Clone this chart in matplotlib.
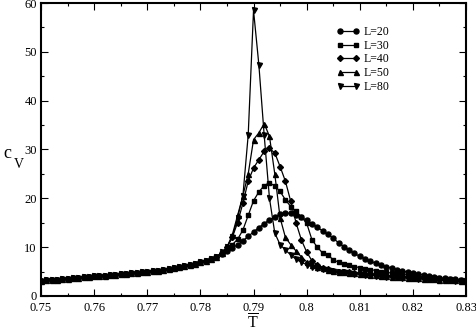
import numpy as np
import matplotlib
matplotlib.use("Agg")
import matplotlib.pyplot as plt
from matplotlib.ticker import MultipleLocator, FormatStrFormatter

plt.rcParams['font.family'] = ['Liberation Serif', 'DejaVu Serif']
plt.rcParams['mathtext.fontset'] = 'custom'
plt.rcParams['mathtext.rm'] = 'Liberation Serif'

# temperature grid (0.750 ... 0.830, step 0.001)
T = np.round(np.arange(750, 831) / 1000.0, 3)

# left tail (0.750 - 0.784), nearly common to all sizes
tail_left = [3.1, 3.2, 3.3, 3.3, 3.4, 3.5, 3.6, 3.7, 3.8, 3.9,
             4.0, 4.1, 4.1, 4.2, 4.3, 4.4, 4.5, 4.6, 4.7, 4.8,
             5.0, 5.1, 5.2, 5.4, 5.6, 5.8, 6.0, 6.2, 6.4, 6.6,
             6.9, 7.2, 7.6, 8.0, 8.6]

cv_L20 = tail_left + [
    9.2, 9.8, 10.5, 11.3, 12.2, 13.1, 14.0, 14.8, 15.6, 16.2,
    16.7, 17.0, 16.9, 16.6, 16.1, 15.5, 14.8, 14.1, 13.3, 12.6,
    11.8, 10.9, 10.1, 9.4, 8.7, 8.1, 7.6, 7.1, 6.7, 6.3,
    6.0, 5.7, 5.4, 5.1, 4.9, 4.7, 4.5, 4.3, 4.1, 3.9,
    3.7, 3.6, 3.5, 3.4, 3.3, 3.1]

cv_L30 = tail_left[:-1] + [8.8,
    9.6, 10.5, 11.6, 13.5, 16.5, 19.5, 21.3, 22.6, 23.2, 22.5,
    21.4, 19.7, 18.3, 17.3, 16.2, 14.9, 11.5, 10.0, 8.8, 8.4,
    7.4, 6.9, 6.6, 6.3, 6.0, 5.8, 5.6, 5.4, 5.2, 5.0,
    4.8, 4.7, 4.5, 4.4, 4.3, 4.1, 4.0, 3.9, 3.8, 3.7,
    3.6, 3.5, 3.4, 3.3, 3.2, 3.1]

cv_L40 = tail_left[:-1] + [8.7,
    10.0, 12.0, 15.0, 19.0, 23.5, 26.2, 27.9, 29.6, 30.2, 29.3,
    26.5, 23.5, 19.4, 15.0, 11.5, 9.0, 7.2, 6.3, 5.8, 5.5,
    5.2, 5.0, 4.9, 4.8, 4.7, 4.6, 4.5, 4.4, 4.3, 4.2,
    4.1, 4.0, 3.95, 3.9, 3.8, 3.75, 3.7, 3.6, 3.55, 3.5,
    3.4, 3.35, 3.3, 3.2, 3.15, 3.1]

cv_L50 = tail_left[:-1] + [8.7,
    10.0, 12.5, 16.5, 20.5, 25.0, 32.0, 33.4, 35.3, 32.7, 25.0,
    16.0, 12.0, 10.5, 9.2, 8.0, 7.0, 6.4, 6.0, 5.7, 5.4,
    5.2, 5.0, 4.85, 4.7, 4.6, 4.5, 4.4, 4.3, 4.2, 4.1,
    4.0, 3.9, 3.85, 3.8, 3.7, 3.65, 3.6, 3.5, 3.45, 3.4,
    3.35, 3.3, 3.25, 3.2, 3.1, 3.05]

cv_L80 = tail_left[:-1] + [8.9,
    10.0, 12.0, 16.0, 20.5, 33.0, 58.5, 47.4, 33.0, 20.0, 12.9,
    10.5, 9.4, 8.4, 7.5, 6.9, 6.4, 6.0, 5.7, 5.5, 5.3,
    5.1, 4.9, 4.8, 4.7, 4.55, 4.45, 4.35, 4.25, 4.15, 4.05,
    3.95, 3.9, 3.8, 3.75, 3.7, 3.6, 3.55, 3.5, 3.45, 3.4,
    3.3, 3.25, 3.2, 3.15, 3.1, 3.05]

series = [("L=20", cv_L20, "o"),
          ("L=30", cv_L30, "s"),
          ("L=40", cv_L40, "D"),
          ("L=50", cv_L50, "^"),
          ("L=80", cv_L80, "v")]

fig = plt.figure(figsize=(4.77, 3.34), dpi=100)
ax = fig.add_axes([0.086, 0.114, 0.891, 0.877])

for label, cv, mk in series:
    ms = 3.6 if mk in ("o", "^", "v") else 3.0
    ax.plot(T, cv, color="black", lw=0.9, marker=mk, ms=ms, label=label)

ax.set_xlim(0.75, 0.83)
ax.set_ylim(0, 60)
ax.xaxis.set_major_locator(MultipleLocator(0.01))
ax.xaxis.set_minor_locator(MultipleLocator(0.005))
ax.yaxis.set_major_locator(MultipleLocator(10))
ax.yaxis.set_minor_locator(MultipleLocator(5))
ax.xaxis.set_major_formatter(FormatStrFormatter('%g'))
ax.tick_params(which='both', direction='in', top=True, right=True,
               labelsize=9, width=0.8, pad=3)
ax.tick_params(axis='x', which='major', pad=4.3)
ax.tick_params(which='major', length=5)
ax.tick_params(which='minor', length=2.5)
for sp in ax.spines.values():
    sp.set_linewidth(1.5)

ax.legend(loc='upper left', bbox_to_anchor=(0.675, 0.95), frameon=False,
          fontsize=8.5, numpoints=2, handlelength=2.0, handletextpad=0.3,
          labelspacing=0.15, borderpad=0.2)

fig.text(0.53, 0.002, r'$\overline{\mathrm{T}}$', fontsize=11.5,
         ha='center', va='bottom')
fig.text(0.008, 0.528, "c", fontsize=13, ha='left', va='baseline')
fig.text(0.028, 0.497, "V", fontsize=10, ha='left', va='baseline')

fig.savefig("out.png", dpi=100)
